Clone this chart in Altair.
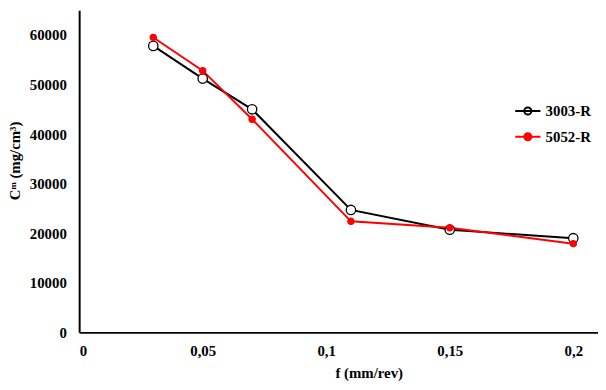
import altair as alt
import pandas as pd

f_values = [0.03, 0.05, 0.07, 0.11, 0.15, 0.2]
s3003 = [57800, 51200, 45000, 24700, 20700, 19000]
s5052 = [59500, 52800, 43000, 22400, 21100, 17900]
series_names = ["3003-R", "5052-R"]
x_ticks = [0, 0.05, 0.1, 0.15, 0.2]
y_ticks = [0, 10000, 20000, 30000, 40000, 50000, 60000]

rows = []
for name, vals in zip(series_names, [s3003, s5052]):
    for f, v in zip(f_values, vals):
        rows.append({"f": f, "C": v, "series": name})
df = pd.DataFrame(rows)

FONT = "Liberation Serif"
colors = alt.Scale(domain=series_names, range=["#000000", "#ff0000"])
fills = alt.Scale(domain=series_names, range=["#ffffff", "#ff0000"])
sym_path = "M-1,0H1M0.28,0A0.28,0.28,0,1,1,-0.28,0A0.28,0.28,0,1,1,0.28,0Z"

x = alt.X("f:Q", scale=alt.Scale(domain=[0, 0.21], nice=False),
          axis=alt.Axis(values=x_ticks, title="f (mm/rev)",
                        labelExpr="replace(toString(datum.value), '.', ',')",
                        titleX=293, titleY=41, titleBaseline="middle"))
y = alt.Y("C:Q", scale=alt.Scale(domain=[0, 65000], nice=False),
          axis=alt.Axis(values=y_ticks, format="d", title="Cᵐ (mg/cm³)",
                        titleX=-65, titleY=152, titleAlign="center",
                        titleBaseline="middle", titleAngle=-90))

legend = alt.Legend(orient="none", legendX=440, legendY=88,
                    symbolType=sym_path, symbolSize=650,
                    symbolStrokeWidth=2,
                    labelFont=FONT, labelFontSize=15,
                    labelFontWeight="bold", labelColor="#000000",
                    rowPadding=4, labelOffset=4, padding=0)

lines = alt.Chart(df).mark_line(strokeWidth=2).encode(
    x=x, y=y, color=alt.Color("series:N", scale=colors, title="", legend=legend)
)

def pts(name, size):
    return alt.Chart(df).transform_filter(alt.datum.series == name).mark_point(
        shape="circle", filled=False, strokeWidth=1.3, opacity=1, size=size
    ).encode(
        x=x, y=y,
        stroke=alt.Stroke("series:N", scale=colors, legend=None),
        fill=alt.Fill("series:N", scale=fills, legend=None),
    )

chart = alt.layer(lines, pts("3003-R", 90), pts("5052-R", 40)).properties(
    width=525, height=326,
    padding={"left": 72, "top": 0, "right": 0, "bottom": 48},
    autosize=alt.AutoSizeParams(type="none"),
).configure_view(stroke=None).configure_axis(
    grid=False, ticks=False, domainColor="#000000", domainWidth=2,
    labelFont=FONT, labelFontSize=15, labelFontWeight="bold", labelColor="#000000",
    titleFont=FONT, titleFontSize=15, titleFontWeight="bold", titleColor="#000000",
    labelPadding=13,
).configure_axisX(labelPadding=11)

chart.save("out.html", embed_options={"renderer": "svg", "actions": False})
